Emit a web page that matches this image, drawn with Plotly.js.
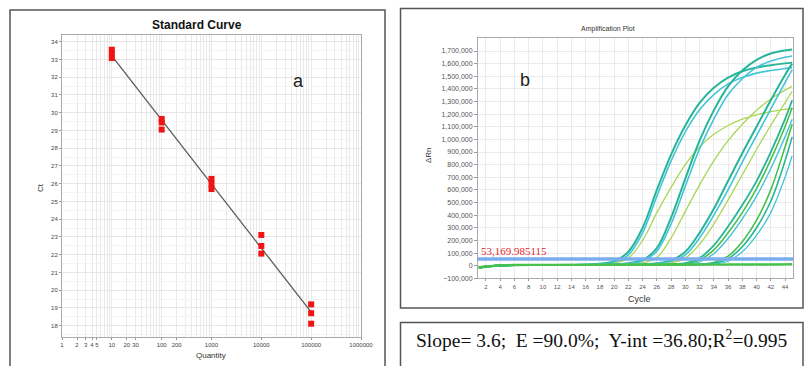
<!DOCTYPE html>
<html>
<head>
<meta charset="utf-8">
<script src="https://cdn.plot.ly/plotly-3.0.1.min.js"></script>
<style>
html,body{margin:0;padding:0;background:#fff;}
#chart{width:804px;height:366px;}
</style>
</head>
<body>
<div id="chart"></div>
<script>
// ---------- Panel a: standard curve ----------
var quantity = [10,10,10, 100,100,100, 1000,1000,1000, 10000,10000,10000, 100000,100000,100000];
var ctValues = [33.55,33.3,33.08, 29.65,29.45,29.05, 26.27,25.98,25.7, 23.11,22.49,22.06, 19.2,18.7,18.11];
var qTickVals = [1,2,3,4,5,10,20,30,100,200,1000,10000,100000,1000000];
var qTickText = ['1','2','3','4','5','10','20','30','100','200','1000','10000','100000','1000000'];
var ctTicks = [18,19,20,21,22,23,24,25,26,27,28,29,30,31,32,33,34];

// ---------- Panel b: amplification plot ----------
var cycles = [1,3,6,10,14,18,20,22,24,26,28,30,32,34,36,38,40,42,44,45];
var A1 = [-15000,-2000,5000,6000,7000,16000,35000,110000,300000,600000,880000,1110000,1290000,1410000,1490000,1540000,1570000,1588000,1602000,1608000];
var A2 = [-18000,-3000,4000,5000,6000,12000,26000,85000,260000,550000,830000,1060000,1235000,1355000,1440000,1490000,1525000,1545000,1562000,1568000];
var A3 = [-12000,-1000,6000,7000,7000,10000,20000,60000,200000,420000,620000,800000,940000,1040000,1110000,1160000,1195000,1220000,1238000,1245000];
var B1 = [-15000,-2000,5000,6000,6000,8000,12000,20000,45000,140000,380000,690000,990000,1230000,1420000,1545000,1630000,1680000,1705000,1712000];
var B2 = [-17000,-3000,4000,5000,5000,7000,10000,16000,36000,115000,330000,630000,925000,1160000,1355000,1480000,1570000,1620000,1650000,1660000];
var B3 = [-12000,0,6000,7000,7000,8000,9000,12000,22000,65000,220000,430000,640000,830000,990000,1120000,1230000,1320000,1390000,1420000];
var C1 = [-15000,-2000,5000,6000,6000,6000,7000,9000,12000,20000,42000,110000,260000,450000,670000,890000,1100000,1310000,1510000,1600000];
var C2 = [-16000,-3000,4000,5000,5000,5000,6000,8000,10000,16000,32000,85000,220000,400000,600000,820000,1030000,1240000,1450000,1550000];
var C3 = [-12000,0,6000,7000,7000,7000,8000,9000,10000,13000,22000,60000,170000,330000,520000,720000,920000,1110000,1290000,1380000];
var D1 = [-15000,-2000,5000,6000,6000,6000,6000,7000,8000,10000,13000,20000,60000,160000,310000,480000,670000,900000,1160000,1310000];
var D2 = [-14000,-1000,5000,6000,6000,6000,6000,7000,7000,8000,10000,14000,45000,125000,260000,420000,610000,840000,1100000,1250000];
var D3 = [-16000,-3000,4000,5000,5000,5000,5000,6000,6000,7000,8000,11000,30000,95000,215000,370000,550000,770000,1020000,1160000];
var E1 = [-14000,-1000,5000,6000,6000,6000,6000,6000,7000,7000,8000,9000,12000,25000,75000,190000,360000,600000,940000,1120000];
var E2 = [-15000,-2000,5000,6000,6000,6000,6000,6000,6000,7000,7000,8000,10000,18000,55000,150000,300000,510000,830000,1020000];
var E3 = [-16000,-3000,4000,5000,5000,5000,5000,5000,6000,6000,6000,7000,8000,12000,35000,110000,240000,420000,700000,870000];
var NTC1 = [-20000,-4000,3000,4000,4000,4000,4000,5000,5000,5000,5000,5000,6000,6000,6000,6000,7000,7000,8000,8000];
var NTC2 = [-10000,2000,9000,10000,10000,10000,10000,11000,11000,11000,11000,12000,12000,12000,13000,13000,13000,14000,14000,15000];
var threshold = 53169.985115;
var thresholdLabel = '53,169.985115';
var cycleTicks = [2,4,6,8,10,12,14,16,18,20,22,24,26,28,30,32,34,36,38,40,42,44];
var rnTicks = [-100000,0,100000,200000,300000,400000,500000,600000,700000,800000,900000,1000000,1100000,1200000,1300000,1400000,1500000,1600000,1700000];

var summaryText = 'Slope= 3.6;  E =90.0%;  Y-int =36.80;R<sup>2</sup>=0.995';

// ---------- colours ----------
var TEAL = '#27b59a', CYAN = '#45c4d8', YG = '#a9d655', GREEN = '#47c14a';
var curves = [
  {y:A1,c:TEAL,w:2},{y:A2,c:CYAN,w:1.6},{y:A3,c:YG,w:1.3},
  {y:B1,c:TEAL,w:2},{y:B2,c:CYAN,w:1.6},{y:B3,c:YG,w:1.3},
  {y:C1,c:TEAL,w:2},{y:C2,c:CYAN,w:1.6},{y:C3,c:YG,w:1.3},
  {y:D1,c:TEAL,w:1.8},{y:D2,c:GREEN,w:1.6},{y:D3,c:CYAN,w:1.4},
  {y:E1,c:GREEN,w:1.6},{y:E2,c:TEAL,w:1.6},{y:E3,c:CYAN,w:1.3},
  {y:NTC1,c:GREEN,w:1.8},{y:NTC2,c:GREEN,w:1.4}
];

// regression line for the standard curve (from the points)
var lx = quantity.map(function(q){return Math.log10(q);});
var n = lx.length, mx = 0, my = 0;
for (var i=0;i<n;i++){mx+=lx[i];my+=ctValues[i];}
mx/=n; my/=n;
var sxy=0,sxx=0;
for (i=0;i<n;i++){sxy+=(lx[i]-mx)*(ctValues[i]-my);sxx+=(lx[i]-mx)*(lx[i]-mx);}
var slope=sxy/sxx, icpt=my-slope*mx;
var qMin = Math.min.apply(null, quantity), qMax = Math.max.apply(null, quantity);
var fitX = [qMin, qMax];
var fitY = fitX.map(function(q){return icpt+slope*Math.log10(q);});

// minor grid positions for the log axis (1..9 per decade)
var gridVals = [];
for (var d=0; d<6; d++){
  for (var m=1; m<10; m++){ gridVals.push(m*Math.pow(10,d)); }
}
gridVals.push(1000000);

var traces = [];
traces.push({x:fitX, y:fitY, xaxis:'x', yaxis:'y', mode:'lines', line:{color:'#5a5a5a', width:1.3}, hoverinfo:'skip', showlegend:false});
traces.push({x:quantity, y:ctValues, xaxis:'x', yaxis:'y', mode:'markers', marker:{symbol:'square', size:6, color:'#f01414'}, showlegend:false});

curves.forEach(function(cv){
  traces.push({x:cycles, y:cv.y, xaxis:'x2', yaxis:'y2', mode:'lines', line:{color:cv.c, width:cv.w, shape:'spline', smoothing:1}, showlegend:false});
});
traces.push({x:[cycles[0]-0.2, cycles[cycles.length-1]+0.2], y:[threshold, threshold], xaxis:'x2', yaxis:'y2', mode:'lines', line:{color:'#7aacee', width:3.5}, showlegend:false});

var W=804, H=366;
function px(x){return x/W;}
function py(y){return 1-y/H;}

var SANS = 'Arial, Liberation Sans, sans-serif';
var tickFont = {family:SANS, size:6, color:'#444'};
function ann(text, x, y, size, extra){
  var a = {text:text, xref:'paper', yref:'paper', x:px(x), y:py(y), xanchor:'center', yanchor:'middle', showarrow:false, font:{family:SANS, size:size, color:'#333'}};
  for (var k in (extra||{})) a[k]=extra[k];
  return a;
}
var layout = {
  width:W, height:H, margin:{l:0,r:0,t:0,b:0},
  paper_bgcolor:'#fff', plot_bgcolor:'#fff', showlegend:false,
  xaxis:{type:'log', domain:[px(62),px(361)], range:[0,6], tickmode:'array', tickvals:qTickVals, ticktext:qTickText, tickangle:0,
    showgrid:false, zeroline:false, showline:true, linecolor:'#aaa', mirror:true,
    minor:{tickmode:'array', tickvals:gridVals, showgrid:true, gridcolor:'#e9e9e9', ticks:''},
    ticks:'outside', ticklen:2, tickcolor:'#999', tickfont:tickFont, anchor:'y'},
  yaxis:{domain:[py(337),py(35)], range:[17.36,34.38], tickmode:'array', tickvals:ctTicks,
    showgrid:true, gridcolor:'#e6e6e6', zeroline:false, showline:true, linecolor:'#aaa', mirror:true,
    minor:{dtick:0.5, showgrid:true, gridcolor:'#f3f3f3', ticks:''},
    ticks:'outside', ticklen:2, tickcolor:'#999', tickfont:tickFont, anchor:'x'},
  xaxis2:{domain:[px(478),px(793)], range:[0.88,45.12], tickmode:'array', tickvals:cycleTicks, tickangle:0,
    showgrid:true, gridcolor:'#ebebeb', zeroline:false, showline:true, linecolor:'#aaa', mirror:true,
    ticks:'outside', ticklen:2, tickcolor:'#999', tickfont:{family:SANS, size:6, color:'#555'}, anchor:'y2'},
  yaxis2:{domain:[py(278.3),py(38)], range:[-100000,1803000], tickmode:'array', tickvals:rnTicks, tickformat:',',
    showgrid:true, gridcolor:'#ebebeb', zeroline:false, showline:true, linecolor:'#aaa', mirror:true,
    ticks:'outside', ticklen:3, tickcolor:'#999', tickfont:{family:SANS, size:7, color:'#555'}, anchor:'x2'},
  shapes:[
    {type:'rect', xref:'paper', yref:'paper', x0:px(10), x1:px(385), y0:py(372), y1:py(10), line:{color:'#555', width:1.5}},
    {type:'rect', xref:'paper', yref:'paper', x0:px(400.5), x1:px(803), y0:py(308), y1:py(8.5), line:{color:'#555', width:1.5}},
    {type:'rect', xref:'paper', yref:'paper', x0:px(400.5), x1:px(803), y0:py(372), y1:py(322.5), line:{color:'#555', width:1.5}}
  ],
  annotations:[
    ann('<b>Standard Curve</b>', 197, 25, 12, {font:{family:SANS, size:12, color:'#111'}}),
    ann('Ct', 40, 188, 8, {textangle:-90}),
    ann('Quantity', 211, 355, 8),
    ann('a', 298, 81, 18, {font:{family:SANS, size:18, color:'#222'}}),
    ann('Amplification Plot', 608, 29, 7),
    ann('Cycle', 639, 299, 9),
    ann('ΔRn', 428, 155, 8, {textangle:-90}),
    ann('b', 525, 80, 18, {font:{family:SANS, size:18, color:'#222'}}),
    {text:thresholdLabel, xref:'x2', yref:'y2', x:0.95, y:threshold, xanchor:'left', yanchor:'bottom', showarrow:false, font:{family:'Liberation Serif, Times New Roman, serif', size:11, color:'#e3262c'}},
    ann(summaryText, 414, 339, 19.5, {xanchor:'left', font:{family:'Liberation Serif, Times New Roman, serif', size:19.5, color:'#111'}})
  ]
};

Plotly.newPlot('chart', traces, layout, {staticPlot:true, displayModeBar:false});
</script>
</body>
</html>
